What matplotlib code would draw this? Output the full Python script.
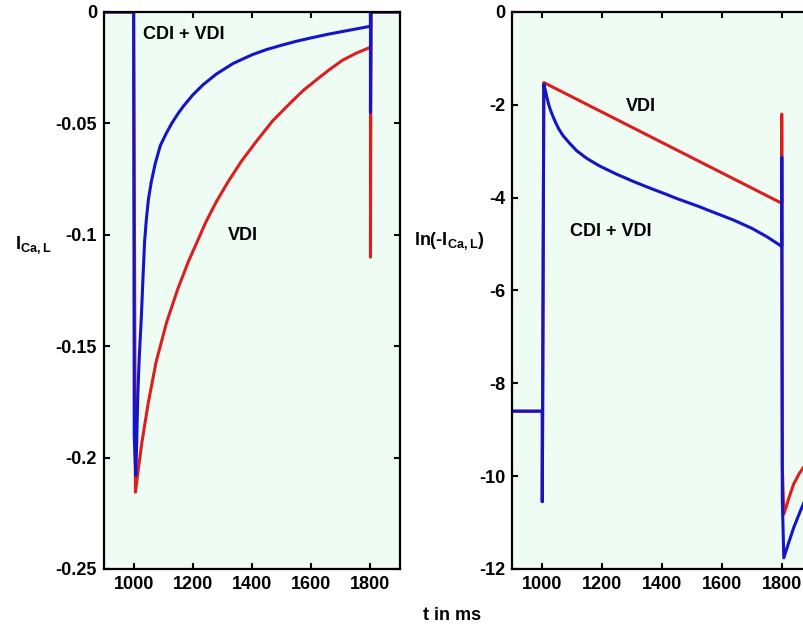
import matplotlib
matplotlib.use("Agg")
from matplotlib import pyplot as plt

plt.rcParams["font.family"] = "Liberation Sans"
plt.rcParams["font.weight"] = "bold"
plt.rcParams["axes.unicode_minus"] = False
plt.rcParams["mathtext.fontset"] = "custom"
plt.rcParams["mathtext.rm"] = "Liberation Sans:bold"
plt.rcParams["mathtext.it"] = "Liberation Sans:bold"
plt.rcParams["mathtext.bf"] = "Liberation Sans:bold"

BLUE = "#1414c8"
RED = "#dc1e1e"
BG = "#effcf3"

# left panel: I_Ca,L
t_vdi = [900, 1000, 1006, 1015, 1028, 1050, 1076, 1112, 1150, 1185, 1215,
         1245, 1280, 1320, 1364, 1415, 1470, 1537, 1575, 1615, 1660, 1705,
         1750, 1800, 1800, 1802, 1900]
i_vdi = [0, 0, -0.2155, -0.206, -0.193, -0.175, -0.157, -0.139, -0.124,
         -0.112, -0.103, -0.094, -0.085, -0.076, -0.067, -0.058, -0.0488,
         -0.0398, -0.035, -0.0307, -0.026, -0.0217, -0.0186, -0.0158,
         -0.11, 0, 0]

t_cdi = [900, 1000, 1002, 1007, 1010, 1014, 1019, 1026, 1032, 1037, 1043,
         1050, 1060, 1073, 1090, 1110, 1130, 1150, 1168, 1200, 1235, 1280,
         1336, 1400, 1448, 1500, 1548, 1600, 1660, 1720, 1800, 1800, 1800,
         1802, 1900]
i_cdi = [0, 0, -0.19, -0.208, -0.195, -0.172, -0.155, -0.137, -0.118,
         -0.103, -0.093, -0.084, -0.076, -0.068, -0.060, -0.0545, -0.0497,
         -0.0456, -0.0423, -0.0372, -0.0326, -0.0278, -0.0231, -0.0192,
         -0.0169, -0.0149, -0.0132, -0.0116, -0.0099, -0.0084, -0.0064, 0,
         -0.045, 0, 0]

# right panel: ln(-I_Ca,L)
t_ln_vdi = [900, 1000, 1000, 1005, 1800, 1800, 1802, 1807, 1825, 1840,
            1858, 1874, 1900]
ln_vdi = [-8.6, -8.6, -10.55, -1.52, -4.12, -2.2, -9.8, -10.82, -10.45,
          -10.17, -9.95, -9.8, -9.6]

t_ln_cdi = [900, 1000, 1000, 1005, 1010, 1015, 1020, 1025, 1030, 1037,
            1045, 1055, 1070, 1090, 1115, 1150, 1192, 1250, 1304, 1350,
            1415, 1450, 1527, 1550, 1638, 1700, 1750, 1800, 1800, 1802,
            1807, 1825, 1840, 1858, 1874, 1900]
ln_cdi = [-8.6, -8.6, -10.55, -1.56, -1.68, -1.83, -1.96, -2.07, -2.16,
          -2.27, -2.39, -2.52, -2.67, -2.82, -2.99, -3.16, -3.32, -3.50,
          -3.65, -3.77, -3.93, -4.02, -4.20, -4.26, -4.48, -4.66, -4.84,
          -5.05, -3.13, -10.5, -11.76, -11.40, -11.11, -10.82, -10.57,
          -10.3]

x_ticks = [1000, 1200, 1400, 1600, 1800]
left_yticks = [0, -0.05, -0.1, -0.15, -0.2, -0.25]
left_ylabels = ["0", "-0.05", "-0.1", "-0.15", "-0.2", "-0.25"]
right_yticks = [0, -2, -4, -6, -8, -10, -12]

FS = 13


def style_axes(ax):
    ax.set_facecolor(BG)
    for s in ax.spines.values():
        s.set_linewidth(1.6)
    ax.tick_params(direction="in", top=True, right=True, length=4,
                   width=1.5, labelsize=FS, pad=5)
    ax.set_xlim(900, 1900)
    ax.set_xticks(x_ticks)
    ax.set_xticklabels([str(v) for v in x_ticks], fontweight="bold")


fig = plt.figure(figsize=(8.04, 6.31), dpi=100)
ax1 = fig.add_axes([0.1294, 0.0983, 0.3682, 0.8827])
ax2 = fig.add_axes([0.6373, 0.0983, 0.3722, 0.8827])

style_axes(ax1)
ax1.plot(t_vdi, i_vdi, color=RED, lw=2.2)
ax1.plot(t_cdi, i_cdi, color=BLUE, lw=2.2)
ax1.set_ylim(-0.25, 0)
ax1.set_yticks(left_yticks)
ax1.set_yticklabels(left_ylabels, fontweight="bold")
ax1.text(1030, -0.0099, "CDI + VDI", fontsize=FS, va="center")
ax1.text(1317, -0.1003, "VDI", fontsize=FS, va="center")

style_axes(ax2)
ax2.plot(t_ln_vdi, ln_vdi, color=RED, lw=2.2)
ax2.plot(t_ln_cdi, ln_cdi, color=BLUE, lw=2.2)
ax2.set_ylim(-12, 0)
ax2.set_yticks(right_yticks)
ax2.set_yticklabels([str(v) for v in right_yticks], fontweight="bold")
ax2.text(1280, -2.03, "VDI", fontsize=FS, va="center")
ax2.text(1092, -4.73, "CDI + VDI", fontsize=FS, va="center")

fig.text(33 / 804, 1 - 245 / 631, r"I$_{\mathrm{Ca,L}}$", fontsize=FS,
         ha="center", va="center")
fig.text(449 / 804, 1 - 241 / 631, r"ln(-I$_{\mathrm{Ca,L}}$)", fontsize=FS,
         ha="center", va="center")
fig.text(452 / 804, 1 - 616 / 631, "t in ms", fontsize=FS,
         ha="center", va="center")

fig.savefig("out.png", dpi=100)
